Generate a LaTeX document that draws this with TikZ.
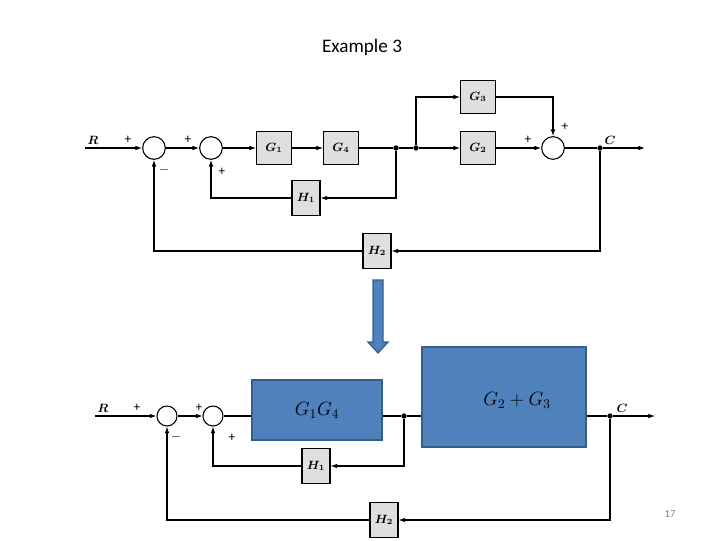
\documentclass[tikz,border=0pt]{standalone}
\usepackage{fontspec}
\usepackage{bm}
\setmainfont{Carlito}
\usetikzlibrary{arrows.meta}
\definecolor{bl}{HTML}{4F81BD}
\definecolor{bld}{HTML}{385D8A}
\begin{document}
\begin{tikzpicture}[x=0.75pt,y=-0.75pt,
  blk/.style={draw,thick,fill=gray!25,minimum width=26pt,minimum height=25pt,inner sep=0pt,font=\small},
  sblk/.style={draw,thick,fill=gray!25,minimum width=21pt,minimum height=26pt,inner sep=0pt,font=\small},
  big/.style={draw=bld,line width=1.3pt,fill=bl,inner sep=0pt,font=\Large},
  sum/.style={draw,thick,circle,minimum size=17pt,inner sep=0pt},
  dot/.style={circle,fill,inner sep=1.4pt},
  ln/.style={thick},
  ar/.style={thick,-{Latex[length=5pt,width=3.5pt]}},
  sg/.style={font=\normalsize}]
\useasboundingbox (0,0) rectangle (720,540);
\node (title) at (362,47) {\Large Example 3};
\node[text=gray,font=\footnotesize] (pg) at (670,514) {17};
% ---- top
\coordinate (R) at (85,148);
\node[font=\small] (Rl) at (93,140) {$\bm{R}$};
\node[sum] (s1) at (154,148) {};
\node[sum] (s2) at (211,148) {};
\node[blk] (g1) at (274,148) {$\bm{G_1}$};
\node[blk] (g4) at (341,148) {$\bm{G_4}$};
\node[dot] (d1) at (396,148) {};
\node[dot] (d2) at (416,148) {};
\node[blk] (g3) at (478,97) {$\bm{G_3}$};
\node[blk] (g2) at (478,148) {$\bm{G_2}$};
\node[sum] (s3) at (553,148) {};
\node[dot] (dc) at (600,148) {};
\coordinate (C) at (645,148);
\node[font=\small] (Cl) at (610,140) {$\bm{C}$};
\node[sblk] (h1) at (306,198) {$\bm{H_1}$};
\node[sblk] (h2) at (377,251) {$\bm{H_2}$};
\draw[ar] (R) -- (s1);
\draw[ar] (s1) -- (s2);
\draw[ar] (s2) -- (g1);
\draw[ar] (g1) -- (g4);
\draw[ln] (g4) -- (d1) -- (d2);
\draw[ar] (d2) -- (g2);
\draw[ar] (d2) |- (g3);
\draw[ar] (g2) -- (s3);
\draw[ar] (g3) -| (s3);
\draw[ln] (s3) -- (dc);
\draw[ar] (dc) -- (C);
\draw[ar] (d1) |- (h1);
\draw[ar] (h1) -| (s2);
\draw[ar] (dc) |- (h2);
\draw[ar] (h2) -| (s1);
\node[sg] at (128,140) {+};
\node[sg] at (188,140) {+};
\node[sg] at (164,170) {$-$};
\node[sg] at (222,172) {+};
\node[sg] at (528,140) {+};
\node[sg] at (565,127) {+};
% ---- arrow
\fill[bl,draw=bld,line width=1pt] (373,280) -- (383,280) -- (383,342) -- (388,342) -- (378,353) -- (368,342) -- (373,342) -- cycle;
% ---- bottom
\coordinate (R2) at (95,416);
\node[font=\small] (R2l) at (103,408) {$\bm{R}$};
\node[sum,minimum size=15pt] (t1) at (167,416) {};
\node[sum,minimum size=15pt] (t2) at (213,416) {};
\node[big,minimum width=97pt,minimum height=45pt] (b1) at (317,410) {$G_1G_4$};
\node[dot] (e1) at (404,416) {};
\node[big,minimum width=123pt,minimum height=75pt] (b2) at (504,397) {};
\node[font=\Large] (b2l) at (517,400) {$G_2+G_3$};
\node[dot] (ec) at (610,416) {};
\coordinate (C2) at (655,416);
\node[font=\small] (C2l) at (622,408) {$\bm{C}$};
\node[sblk] (k1) at (316,466) {$\bm{H_1}$};
\node[sblk] (k2) at (384,520) {$\bm{H_2}$};
\draw[ar] (R2) -- (t1);
\draw[ar] (t1) -- (t2);
\draw[ln] (t2) -- (b1.west|-t2);
\draw[ln] (b1.east|-e1) -- (e1) -- (b2.west|-e1);
\draw[ln] (b2.east|-ec) -- (ec);
\draw[ar] (ec) -- (C2);
\draw[ar] (e1) |- (k1);
\draw[ar] (k1) -| (t2);
\draw[ar] (ec) |- (k2);
\draw[ar] (k2) -| (t1);
\node[sg] at (137,408) {+};
\node[sg] at (199,408) {+};
\node[sg] at (176,437) {$-$};
\node[sg] at (232,438) {+};
\end{tikzpicture}
\end{document}
